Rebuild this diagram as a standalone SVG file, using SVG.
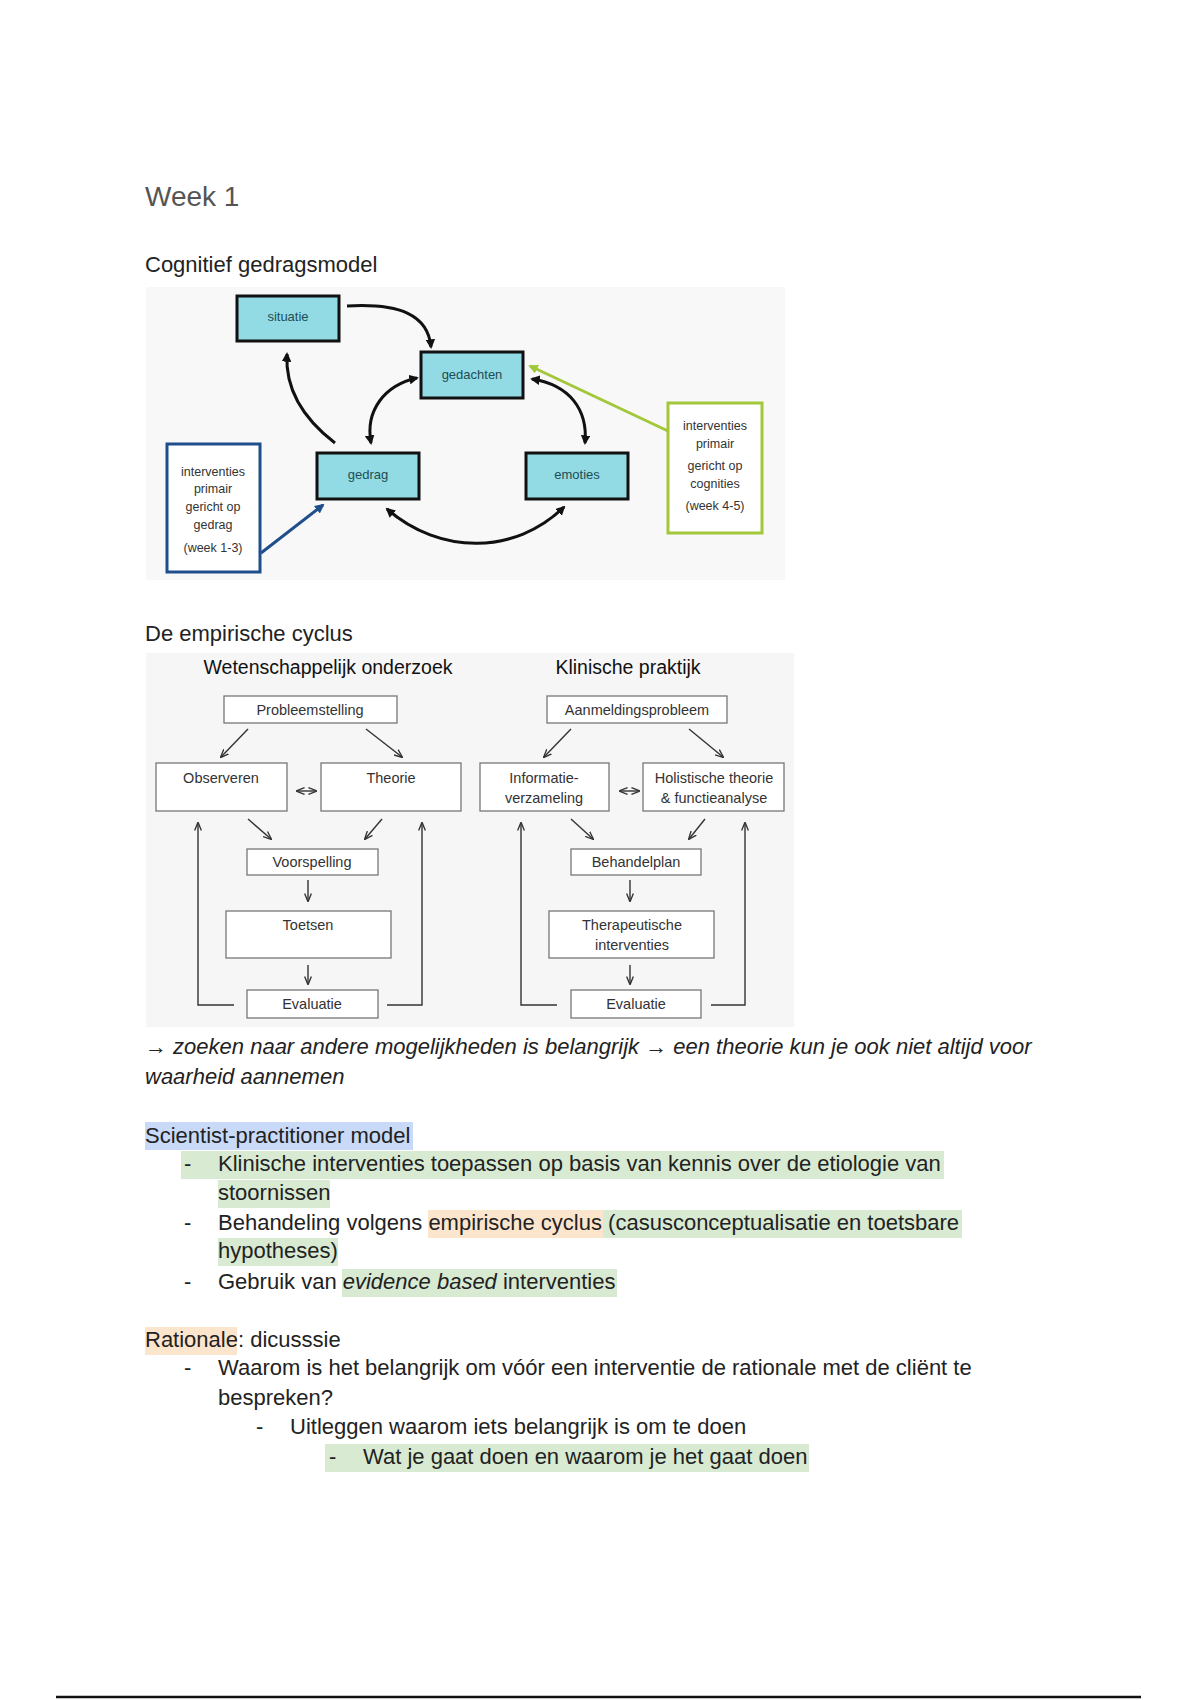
<svg xmlns="http://www.w3.org/2000/svg" width="1200" height="1700" viewBox="0 0 1200 1700">
<defs>
<style>
.body{font-family:"Liberation Sans",Arial,sans-serif;font-size:22px;fill:#222}
.h1{font-family:"Liberation Sans",Arial,sans-serif;font-size:28px;fill:#555}
.h2{font-family:"Liberation Sans",Arial,sans-serif;font-size:22px;fill:#222}
.cbox{fill:#92dbe4;stroke:#111;stroke-width:3}
.clbl{font-family:"Liberation Sans",Arial,sans-serif;font-size:13px;fill:#1d4d55;text-anchor:middle}
.side{font-family:"Liberation Sans",Arial,sans-serif;font-size:12.5px;fill:#333;text-anchor:middle}
.carr{fill:none;stroke:#111;stroke-width:3}
.ebox{fill:#fff;stroke:#777;stroke-width:1.3}
.etxt{font-family:"Liberation Sans",Arial,sans-serif;font-size:14.5px;fill:#333;text-anchor:middle}
.etitle{font-family:"Liberation Sans",Arial,sans-serif;font-size:19.5px;fill:#111;text-anchor:middle}
.earr{fill:none;stroke:#333;stroke-width:1.4}
.hlg{fill:#d9ead3}
.hlo{fill:#fce5cd}
.hlb{fill:#c9daf8}
</style>
<marker id="ca" viewBox="0 0 10 10" refX="8" refY="5" markerWidth="3.2" markerHeight="3.2" orient="auto-start-reverse"><path d="M0,0 L10,5 L0,10 z" fill="#111"/></marker>
<marker id="cb" viewBox="0 0 10 10" refX="8" refY="5" markerWidth="3.2" markerHeight="3.2" orient="auto"><path d="M0,0 L10,5 L0,10 z" fill="#1f4e8c"/></marker>
<marker id="cg" viewBox="0 0 10 10" refX="8" refY="5" markerWidth="3.2" markerHeight="3.2" orient="auto"><path d="M0,0 L10,5 L0,10 z" fill="#a2c83a"/></marker>
<marker id="ea" viewBox="0 0 10 10" refX="9" refY="5" markerWidth="6" markerHeight="6" orient="auto-start-reverse"><path d="M0,1 L10,5 L0,9" fill="none" stroke="#333" stroke-width="1.6"/></marker>
</defs>
<rect width="1200" height="1700" fill="#fff"/>

<text class="h1" x="145" y="206">Week 1</text>
<text class="h2" x="145" y="272">Cognitief gedragsmodel</text>

<!-- Diagram 1 -->
<rect x="146" y="287" width="639" height="293" fill="#f8f8f8"/>
<g id="connectors1">
<path class="carr" d="M347,306 C400,303 428,315 431,347" marker-end="url(#ca)"/>
<path class="carr" d="M335,443 C305,420 285,390 287,354" marker-end="url(#ca)"/>
<path class="carr" d="M371,443 C365,410 385,385 417,378" marker-start="url(#ca)" marker-end="url(#ca)"/>
<path class="carr" d="M532,379 C570,385 588,410 585,443" marker-start="url(#ca)" marker-end="url(#ca)"/>
<path class="carr" d="M387,509 C440,555 515,555 564,507" marker-start="url(#ca)" marker-end="url(#ca)"/>
<path fill="none" stroke="#1f4e8c" stroke-width="3" d="M261,553 L323,505" marker-end="url(#cb)"/>
<path fill="none" stroke="#a2c83a" stroke-width="3" d="M668,431 L530,366" marker-end="url(#cg)"/>
</g>
<g id="situatie"><rect class="cbox" x="237" y="296" width="102" height="45"/><text class="clbl" x="288" y="321">situatie</text></g>
<g id="gedachten"><rect class="cbox" x="421" y="352" width="102" height="46"/><text class="clbl" x="472" y="379">gedachten</text></g>
<g id="gedrag"><rect class="cbox" x="317" y="453" width="102" height="46"/><text class="clbl" x="368" y="479">gedrag</text></g>
<g id="emoties"><rect class="cbox" x="526" y="453" width="102" height="46"/><text class="clbl" x="577" y="479">emoties</text></g>
<g id="interventies-gedrag"><rect x="167" y="444" width="93" height="128" fill="#fff" stroke="#1f4e8c" stroke-width="3"/>
<text class="side" x="213" y="476">interventies</text><text class="side" x="213" y="493">primair</text><text class="side" x="213" y="511">gericht op</text><text class="side" x="213" y="529">gedrag</text><text class="side" x="213" y="552">(week 1-3)</text></g>
<g id="interventies-cognities"><rect x="668" y="403" width="94" height="130" fill="#fff" stroke="#a2c83a" stroke-width="3"/>
<text class="side" x="715" y="430">interventies</text><text class="side" x="715" y="448">primair</text><text class="side" x="715" y="470">gericht op</text><text class="side" x="715" y="488">cognities</text><text class="side" x="715" y="510">(week 4-5)</text></g>

<text class="h2" x="145" y="641">De empirische cyclus</text>

<!-- Diagram 2 -->
<rect x="146" y="653" width="648" height="374" fill="#f6f6f6"/>
<text class="etitle" x="328" y="674">Wetenschappelijk onderzoek</text>
<text class="etitle" x="628" y="674">Klinische praktijk</text>
<g id="connectors2">
<line class="earr" x1="248" y1="729" x2="221" y2="757" marker-end="url(#ea)"/>
<line class="earr" x1="366" y1="729" x2="402" y2="757" marker-end="url(#ea)"/>
<line class="earr" x1="297" y1="791" x2="316" y2="791" marker-start="url(#ea)" marker-end="url(#ea)"/>
<line class="earr" x1="248" y1="819" x2="271" y2="839" marker-end="url(#ea)"/>
<line class="earr" x1="382" y1="819" x2="365" y2="839" marker-end="url(#ea)"/>
<line class="earr" x1="308" y1="880" x2="308" y2="901" marker-end="url(#ea)"/>
<line class="earr" x1="308" y1="965" x2="308" y2="984" marker-end="url(#ea)"/>
<polyline class="earr" points="234,1005 198,1005 198,823" marker-end="url(#ea)"/>
<polyline class="earr" points="387,1005 422,1005 422,823" marker-end="url(#ea)"/>

<line class="earr" x1="571" y1="729" x2="544" y2="757" marker-end="url(#ea)"/>
<line class="earr" x1="689" y1="729" x2="723" y2="757" marker-end="url(#ea)"/>
<line class="earr" x1="620" y1="791" x2="639" y2="791" marker-start="url(#ea)" marker-end="url(#ea)"/>
<line class="earr" x1="571" y1="819" x2="593" y2="839" marker-end="url(#ea)"/>
<line class="earr" x1="705" y1="819" x2="689" y2="839" marker-end="url(#ea)"/>
<line class="earr" x1="630" y1="880" x2="630" y2="901" marker-end="url(#ea)"/>
<line class="earr" x1="630" y1="965" x2="630" y2="984" marker-end="url(#ea)"/>
<polyline class="earr" points="557,1005 521,1005 521,823" marker-end="url(#ea)"/>
<polyline class="earr" points="711,1005 745,1005 745,823" marker-end="url(#ea)"/>
</g>
<g id="probleemstelling"><rect class="ebox" x="224" y="696" width="173" height="27"/><text class="etxt" x="310" y="715">Probleemstelling</text></g>
<g id="observeren"><rect class="ebox" x="156" y="763" width="131" height="48"/><text class="etxt" x="221" y="783">Observeren</text></g>
<g id="theorie"><rect class="ebox" x="321" y="763" width="140" height="48"/><text class="etxt" x="391" y="783">Theorie</text></g>
<g id="voorspelling"><rect class="ebox" x="247" y="849" width="131" height="26"/><text class="etxt" x="312" y="867">Voorspelling</text></g>
<g id="toetsen"><rect class="ebox" x="226" y="911" width="165" height="47"/><text class="etxt" x="308" y="930">Toetsen</text></g>
<g id="evaluatie1"><rect class="ebox" x="247" y="990" width="131" height="28"/><text class="etxt" x="312" y="1009">Evaluatie</text></g>

<g id="aanmeldingsprobleem"><rect class="ebox" x="547" y="696" width="180" height="27"/><text class="etxt" x="637" y="715">Aanmeldingsprobleem</text></g>
<g id="informatieverzameling"><rect class="ebox" x="480" y="763" width="129" height="48"/><text class="etxt" x="544" y="783">Informatie-</text><text class="etxt" x="544" y="803">verzameling</text></g>
<g id="holistische"><rect class="ebox" x="643" y="763" width="141" height="48"/><text class="etxt" x="714" y="783">Holistische theorie</text><text class="etxt" x="714" y="803">&amp; functieanalyse</text></g>
<g id="behandelplan"><rect class="ebox" x="571" y="849" width="130" height="26"/><text class="etxt" x="636" y="867">Behandelplan</text></g>
<g id="therapeutische"><rect class="ebox" x="549" y="911" width="165" height="47"/><text class="etxt" x="632" y="930">Therapeutische</text><text class="etxt" x="632" y="950">interventies</text></g>
<g id="evaluatie2"><rect class="ebox" x="571" y="990" width="130" height="28"/><text class="etxt" x="636" y="1009">Evaluatie</text></g>

<!-- text body -->
<text class="body" x="145" y="1054" font-style="italic">→ zoeken naar andere mogelijkheden is belangrijk → een theorie kun je ook niet altijd voor</text>
<text class="body" x="145" y="1084" font-style="italic">waarheid aannemen</text>

<rect class="hlb" x="145" y="1122" width="268" height="28"/>
<text class="body" x="145" y="1143">Scientist-practitioner model</text>

<rect class="hlg" x="181" y="1151" width="763" height="28"/>
<text class="body" x="184" y="1171">-</text>
<text class="body" x="218" y="1171">Klinische interventies toepassen op basis van kennis over de etiologie van</text>
<rect class="hlg" x="218" y="1180" width="112" height="28"/>
<text class="body" x="218" y="1200">stoornissen</text>

<rect class="hlo" x="428" y="1210" width="175" height="28"/>
<rect class="hlg" x="603" y="1210" width="359" height="28"/>
<text class="body" x="184" y="1230">-</text>
<text class="body" x="218" y="1230">Behandeling volgens empirische cyclus (casusconceptualisatie en toetsbare</text>
<rect class="hlg" x="218" y="1238" width="120" height="28"/>
<text class="body" x="218" y="1258">hypotheses)</text>

<rect class="hlg" x="342" y="1269" width="275" height="28"/>
<text class="body" x="184" y="1289">-</text>
<text class="body" x="218" y="1289">Gebruik van <tspan font-style="italic">evidence based</tspan> interventies</text>

<rect class="hlo" x="145" y="1327" width="92" height="28"/>
<text class="body" x="145" y="1347">Rationale: dicusssie</text>
<text class="body" x="184" y="1375">-</text>
<text class="body" x="218" y="1375">Waarom is het belangrijk om vóór een interventie de rationale met de cliënt te</text>
<text class="body" x="218" y="1405">bespreken?</text>
<text class="body" x="256" y="1434">-</text>
<text class="body" x="290" y="1434">Uitleggen waarom iets belangrijk is om te doen</text>
<rect class="hlg" x="325" y="1444" width="484" height="28"/>
<text class="body" x="329" y="1464">-</text>
<text class="body" x="363" y="1464">Wat je gaat doen en waarom je het gaat doen</text>

<line x1="56" y1="1697" x2="1141" y2="1697" stroke="#111" stroke-width="2.5"/>
</svg>
